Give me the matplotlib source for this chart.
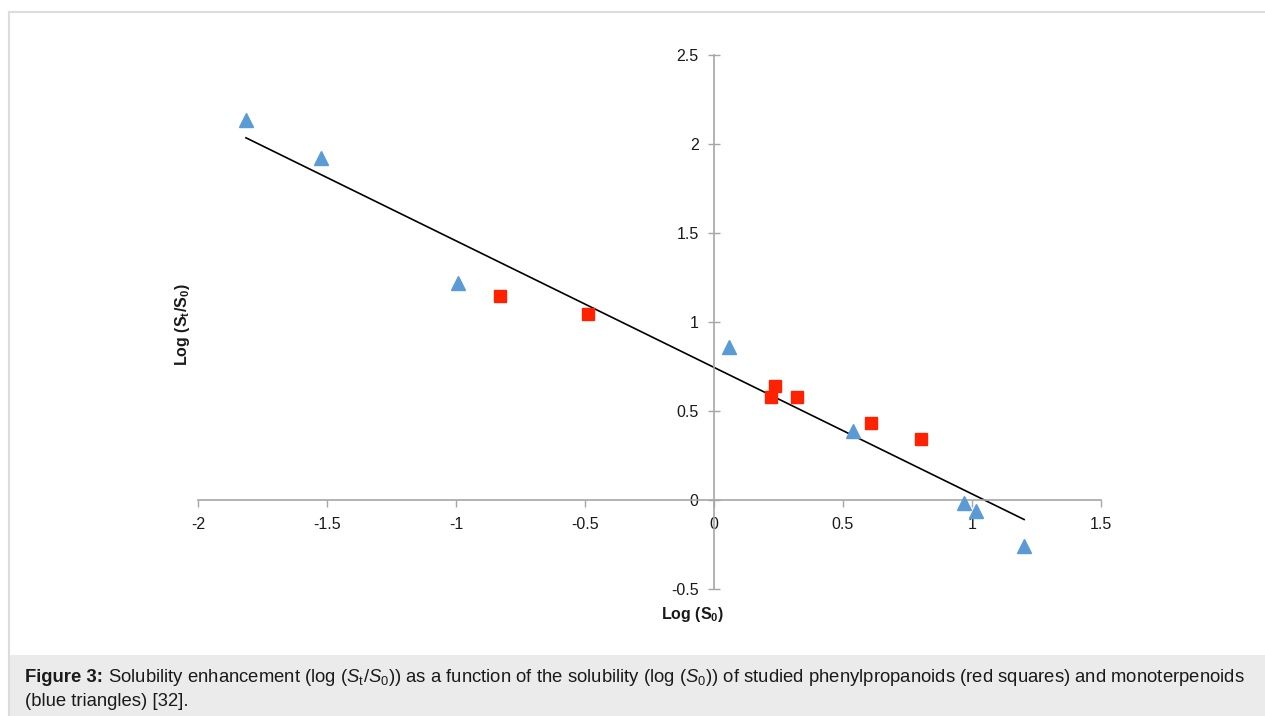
import matplotlib
matplotlib.use("Agg")
import matplotlib.pyplot as plt
from matplotlib.patches import Rectangle
from matplotlib.lines import Line2D
import numpy as np

plt.rcParams['font.family'] = ['Liberation Sans', 'DejaVu Sans']
plt.rcParams['mathtext.fontset'] = 'custom'
plt.rcParams['mathtext.rm'] = 'Liberation Sans'
plt.rcParams['mathtext.it'] = 'Liberation Sans:italic'
plt.rcParams['mathtext.bf'] = 'Liberation Sans:bold'

# Monoterpenoids (blue triangles)
tri_x = [-1.814, -1.523, -0.992, 0.058, 0.539, 0.969, 1.016, 1.202]
tri_y = [2.135, 1.921, 1.219, 0.860, 0.388, -0.017, -0.062, -0.258]
# Phenylpropanoids (red squares)
sq_x = [-0.829, -0.488, 0.236, 0.221, 0.322, 0.609, 0.802]
sq_y = [1.146, 1.045, 0.640, 0.579, 0.579, 0.433, 0.343]
# Linear trendline
trend_slope = -0.711
trend_intercept = 0.745

x_ticks = [-2, -1.5, -1, -0.5, 0, 0.5, 1, 1.5]
x_labels = ["-2", "-1.5", "-1", "-0.5", "0", "0.5", "1", "1.5"]
y_ticks = [-0.5, 0, 0.5, 1, 1.5, 2, 2.5]
y_labels = ["-0.5", "0", "0.5", "1", "1.5", "2", "2.5"]

W, H = 1265, 716
fig = plt.figure(figsize=(W / 100, H / 100), dpi=100)
fig.patch.set_facecolor('white')

# frame lines and caption box
fig.add_artist(Line2D([9 / W, 9 / W], [0, 1 - 12 / H], color='#dcdcdc', lw=1.5))
fig.add_artist(Line2D([9 / W, 1], [1 - 12 / H, 1 - 12 / H], color='#dcdcdc', lw=1.5))
fig.add_artist(Rectangle((10 / W, 0), 1 - 10 / W, (H - 655) / H, facecolor='#ebebeb',
                         edgecolor='none', transform=fig.transFigure))

ax = fig.add_axes([198 / W, (H - 589) / H, (1101 - 198) / W, (589 - 55) / H])
ax.set_xlim(-2, 1.5)
ax.set_ylim(-0.5, 2.5)

gray = '#a6a6a6'
for s in ['top', 'right']:
    ax.spines[s].set_visible(False)
ax.spines['left'].set_position(('data', 0))
ax.spines['bottom'].set_position(('data', 0))
for s in ['left', 'bottom']:
    ax.spines[s].set_color(gray)
    ax.spines[s].set_linewidth(1.2)

ax.set_xticks(x_ticks)
ax.set_xticklabels(x_labels)
ax.set_yticks(y_ticks)
ax.set_yticklabels(y_labels)
ax.tick_params(axis='x', direction='out', length=5, width=1, color=gray,
               labelsize=11.5, labelcolor='#1a1a1a', pad=7)
ax.tick_params(axis='y', direction='inout', length=8, width=1, color=gray,
               labelsize=11.5, labelcolor='#1a1a1a', pad=7)

xs = np.array([min(tri_x + sq_x), max(tri_x + sq_x)])
ax.plot(xs, trend_slope * xs + trend_intercept, color='black', lw=1.2, zorder=2)

ax.plot(tri_x, tri_y, linestyle='none', marker='^', markersize=10,
        color='#5b9bd5', markeredgecolor='#5b9bd5', zorder=3)
ax.plot(sq_x, sq_y, linestyle='none', marker='s', markersize=8.5,
        color='#ff2200', markeredgecolor='#ff2200', zorder=3)

fig.text(182 / W, 1 - 325 / H, r"$\mathbf{Log\ (S_t/S_0)}$", rotation=90,
         ha='center', va='center', fontsize=11.5, color='#1a1a1a')
fig.text(693 / W, 1 - 615 / H, r"$\mathbf{Log\ (S_0)}$",
         ha='center', va='center', fontsize=11.5, color='#1a1a1a')

cap_fs = 13.3
renderer = fig.canvas.get_renderer()
t_bold = fig.text(25 / W, 1 - 678 / H, "Figure 3:", ha='left', va='center',
                  fontsize=cap_fs, fontweight='bold', color='#1a1a1a')
bb = t_bold.get_window_extent(renderer=renderer)
cap1 = (r"Solubility enhancement (log ($S_\mathrm{t}$/$S_\mathrm{0}$)) "
        r"as a function of the solubility (log ($S_\mathrm{0}$)) of studied phenylpropanoids "
        r"(red squares) and monoterpenoids")
cap2 = "(blue triangles) [32]."
fig.text((bb.x1 + 5) / W, 1 - 678 / H, cap1, ha='left', va='center', fontsize=cap_fs,
         color='#1a1a1a')
fig.text(25 / W, 1 - 701 / H, cap2, ha='left', va='center', fontsize=cap_fs, color='#1a1a1a')

fig.savefig('out.png', dpi=100)
